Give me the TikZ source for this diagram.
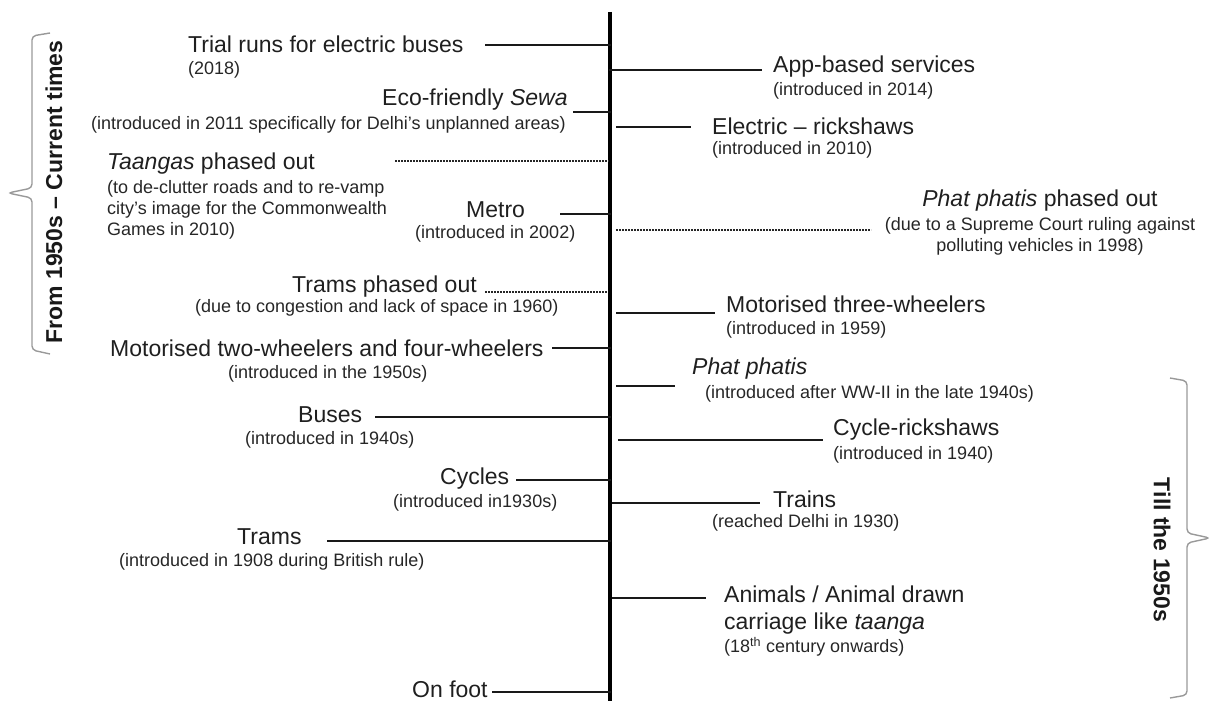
\documentclass[tikz,border=0pt]{standalone}
\usepackage{fontspec}
\setmainfont{Liberation Sans}
\begin{document}
\begin{tikzpicture}[x=1pt,y=-1pt,
  lbl/.style={anchor=west,inner sep=0pt,text=black!88,font=\fontsize{23}{27}\selectfont},
  sub/.style={anchor=west,inner sep=0pt,text=black!85,font=\fontsize{18}{21}\selectfont},
  tick/.style={line width=2.8pt,black!90},
  dtick/.style={line width=2pt,black!85,dash pattern=on 1.6pt off 1.4pt},
  spine/.style={line width=3.4pt,black},
  brace/.style={line width=1.4pt,black!40,rounded corners=4pt},
  period/.style={inner sep=0pt,text=black!90,font=\bfseries\fontsize{23}{26}\selectfont}]
\useasboundingbox (0,0) rectangle (1211,701);
% spine
\coordinate (top) at (610,12);
\coordinate (bot) at (610,701);
\draw[spine] (top) -- (bot);
% left entries
\node[lbl] (trial) at (188,44) {Trial runs for electric buses};
\node[sub] (trials) at (188,70) {(2018)};
\coordinate (t1) at (485,45); \coordinate (s1) at (611,45);
\draw[tick] (t1) -- (s1);

\node[lbl] (eco) at (382,100) {Eco-friendly \textit{Sewa}};
\node[sub] (ecos) at (91,125) {(introduced in 2011 specifically for Delhi's unplanned areas)};
\coordinate (t2) at (573,112); \coordinate (s2) at (611,112);
\draw[tick] (t2) -- (s2);

\node[lbl] (taan) at (107,164) {\textit{Taangas} phased out};
\node[sub,anchor=north west,align=left] (taans) at (107,180) {(to de-clutter roads and to re-vamp\\city's image for the Commonwealth\\Games in 2010)};
\coordinate (t3) at (395,161); \coordinate (s3) at (609,161);
\draw[dtick] (t3) -- (s3);

\node[lbl] (metro) at (466,210) {Metro};
\node[sub] (metros) at (415,234) {(introduced in 2002)};
\coordinate (t4) at (560,214); \coordinate (s4) at (611,214);
\draw[tick] (t4) -- (s4);

\node[lbl] (tramout) at (292,287) {Trams phased out};
\node[sub] (tramouts) at (195,308) {(due to congestion and lack of space in 1960)};
\coordinate (t5) at (485,292); \coordinate (s5) at (608,292);
\draw[dtick] (t5) -- (s5);

\node[lbl] (mot2) at (110,348) {Motorised two-wheelers and four-wheelers};
\node[sub] (mot2s) at (228,374) {(introduced in the 1950s)};
\coordinate (t6) at (552,348); \coordinate (s6) at (611,348);
\draw[tick] (t6) -- (s6);

\node[lbl] (bus) at (298,415) {Buses};
\node[sub] (buss) at (245,440) {(introduced in 1940s)};
\coordinate (t7) at (375,417); \coordinate (s7) at (611,417);
\draw[tick] (t7) -- (s7);

\node[lbl] (cyc) at (440,479) {Cycles};
\node[sub] (cycs) at (393,503) {(introduced in1930s)};
\coordinate (t8) at (516,480); \coordinate (s8) at (611,480);
\draw[tick] (t8) -- (s8);

\node[lbl] (tram) at (237,537) {Trams};
\node[sub] (trams) at (119,562) {(introduced in 1908 during British rule)};
\coordinate (t9) at (327,541); \coordinate (s9) at (611,541);
\draw[tick] (t9) -- (s9);

\node[lbl] (foot) at (412,689) {On foot};
\coordinate (t10) at (492,692); \coordinate (s10) at (611,692);
\draw[tick] (t10) -- (s10);

% right entries
\node[lbl] (app) at (773,67) {App-based services};
\node[sub] (apps) at (773,91) {(introduced in 2014)};
\coordinate (r1) at (609,70); \coordinate (u1) at (762,70);
\draw[tick] (r1) -- (u1);

\node[lbl] (erick) at (712,126) {Electric -- rickshaws};
\node[sub] (ericks) at (712,150) {(introduced in 2010)};
\coordinate (r2) at (616,127); \coordinate (u2) at (691,127);
\draw[tick] (r2) -- (u2);

\node[lbl,anchor=center] (phout) at (1040,201) {\textit{Phat phatis} phased out};
\node[sub,anchor=north,align=center] (phouts) at (1040,217) {(due to a Supreme Court ruling against\\polluting vehicles in 1998)};
\coordinate (r3) at (616,230); \coordinate (u3) at (871,230);
\draw[dtick] (r3) -- (u3);

\node[lbl] (mot3) at (726,304) {Motorised three-wheelers};
\node[sub] (mot3s) at (726,330) {(introduced in 1959)};
\coordinate (r4) at (616,313); \coordinate (u4) at (715,313);
\draw[tick] (r4) -- (u4);

\node[lbl] (phat) at (692,369) {\textit{Phat phatis}};
\node[sub] (phats) at (705,394) {(introduced after WW-II in the late 1940s)};
\coordinate (r5) at (616,386); \coordinate (u5) at (675,386);
\draw[tick] (r5) -- (u5);

\node[lbl] (crick) at (833,430) {Cycle-rickshaws};
\node[sub] (cricks) at (833,455) {(introduced in 1940)};
\coordinate (r6) at (618,440); \coordinate (u6) at (823,440);
\draw[tick] (r6) -- (u6);

\node[lbl] (train) at (773,499) {Trains};
\node[sub] (trains) at (712,523) {(reached Delhi in 1930)};
\coordinate (r7) at (612,503); \coordinate (u7) at (760,503);
\draw[tick] (r7) -- (u7);

\node[lbl,anchor=north west,align=left] (anim) at (724,586) {Animals / Animal drawn\\carriage like \textit{taanga}};
\node[sub] (anims) at (724,647) {(18\textsuperscript{th} century onwards)};
\coordinate (r8) at (612,598); \coordinate (u8) at (706,598);
\draw[tick] (r8) -- (u8);

% brackets
\draw[brace] (50,33) -- (32,36) -- (32,188) -- (8,193) -- (32,198) -- (32,350) -- (50,354);
\node[period,rotate=90] (curr) at (54,192) {From 1950s -- Current times};
\draw[brace] (1170,378) -- (1187,381) -- (1187,533) -- (1210,538) -- (1187,543) -- (1187,695) -- (1170,698);
\node[period,rotate=-90] (till) at (1162,550) {Till the 1950s};
\end{tikzpicture}
\end{document}
